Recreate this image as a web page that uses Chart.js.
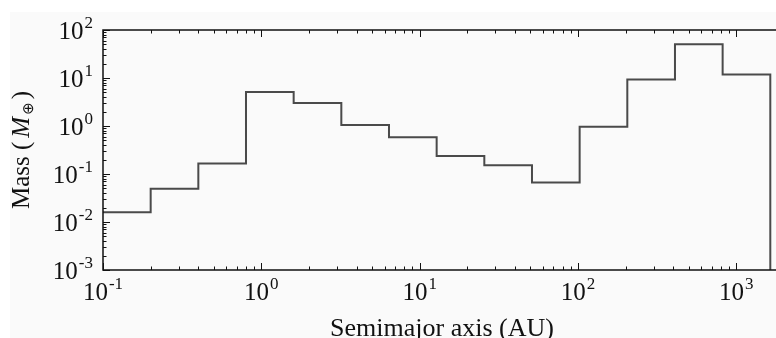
<!DOCTYPE html>
<html>
<head>
<meta charset="utf-8">
<script src="https://cdn.jsdelivr.net/npm/chart.js@4/dist/chart.umd.min.js"></script>
<style>
  html, body { margin: 0; padding: 0; background: #fff; overflow: hidden; }
  #wrap { width: 776px; height: 338px; }
</style>
</head>
<body>
<div id="wrap"><canvas id="massChart" width="776" height="338"></canvas></div>
<script>
// histogram bins (AU), one bin = factor of 2 in semimajor axis
const binEdges = [0.1, 0.2, 0.4, 0.8, 1.6, 3.2, 6.4, 12.8, 25.6, 51.2, 102.4, 204.8, 409.6, 819.2, 1638.4];
// mass in each bin (earth masses)
const binMass = [0.016, 0.049, 0.166, 5.1, 3.0, 1.05, 0.58, 0.237, 0.153, 0.0665, 0.97, 9.3, 50.6, 11.8];

// axis ranges and tick labels
const xMin = 0.1;
const xMax = 1780;
const yMin = 1e-3;
const yMax = 1e2;
const xTickValues = [0.1, 1, 10, 100, 1000];
const xTickExps = ['-1', '0', '1', '2', '3'];
const yTickValues = [1e-3, 1e-2, 1e-1, 1, 10, 100];
const yTickExps = ['-3', '-2', '-1', '0', '1', '2'];

const xTitle = 'Semimajor axis (AU)';

const FONT = '"Liberation Serif", "DejaVu Serif", serif';

// step outline: each bin's value runs from its left edge to the next one,
// the last edge drops back to the bottom of the axis
const stepPoints = binMass.map((m, i) => ({ x: binEdges[i], y: m }));
stepPoints.push({ x: binEdges[binEdges.length - 1], y: yMin });

// decade + 2..9 minor positions inside a range
const logTicks = (lo, hi) => {
  const major = [];
  const minor = [];
  for (let e = Math.floor(Math.log10(lo)); e <= Math.ceil(Math.log10(hi)); e++) {
    const d = Math.pow(10, e);
    if (d >= lo * 0.999 && d <= hi * 1.001) major.push(d);
    for (let k = 2; k <= 9; k++) {
      const v = d * k;
      if (v > lo && v < hi) minor.push(v);
    }
  }
  return { major, minor };
};

const drawPower = (ctx, exp, x, y, align) => {
  ctx.font = '25px ' + FONT;
  const baseW = ctx.measureText('10').width;
  ctx.font = '17px ' + FONT;
  const expW = ctx.measureText(exp).width;
  const gap = 1;
  const total = baseW + gap + expW;
  let left = x - total / 2;
  if (align === 'right') left = x - total;
  ctx.textAlign = 'left';
  ctx.textBaseline = 'alphabetic';
  ctx.font = '25px ' + FONT;
  ctx.fillText('10', left, y);
  ctx.font = '17px ' + FONT;
  ctx.fillText(exp, left + baseW + gap, y - 11);
};

const framePlugin = {
  id: 'frame',
  beforeDraw(chart) {
    const { ctx, width, height } = chart;
    ctx.save();
    ctx.fillStyle = '#ffffff';
    ctx.fillRect(0, 0, width, height);
    ctx.fillStyle = '#fafafa';
    ctx.fillRect(10, 12, width - 10, height - 12);
    ctx.restore();
  },
  afterDraw(chart) {
    const { ctx, chartArea: a } = chart;
    const xs = chart.scales.x;
    const ys = chart.scales.y;
    ctx.save();

    // axes frame (right side sits outside the picture)
    ctx.strokeStyle = '#111';
    ctx.lineWidth = 1.5;
    ctx.beginPath();
    ctx.moveTo(a.right + 2, a.top);
    ctx.lineTo(a.left, a.top);
    ctx.lineTo(a.left, a.bottom);
    ctx.lineTo(a.right + 2, a.bottom);
    ctx.stroke();

    // inward ticks
    ctx.lineWidth = 1;
    const xt = logTicks(xMin, xMax);
    const yt = logTicks(yMin, yMax);
    ctx.beginPath();
    xt.major.forEach((v) => {
      const px = Math.round(xs.getPixelForValue(v)) + 0.5;
      ctx.moveTo(px, a.bottom); ctx.lineTo(px, a.bottom - 7);
      ctx.moveTo(px, a.top); ctx.lineTo(px, a.top + 7);
    });
    xt.minor.forEach((v) => {
      const px = Math.round(xs.getPixelForValue(v)) + 0.5;
      ctx.moveTo(px, a.bottom); ctx.lineTo(px, a.bottom - 3.5);
      ctx.moveTo(px, a.top); ctx.lineTo(px, a.top + 3.5);
    });
    yt.major.forEach((v) => {
      const py = Math.round(ys.getPixelForValue(v)) + 0.5;
      ctx.moveTo(a.left, py); ctx.lineTo(a.left + 7, py);
    });
    yt.minor.forEach((v) => {
      const py = Math.round(ys.getPixelForValue(v)) + 0.5;
      ctx.moveTo(a.left, py); ctx.lineTo(a.left + 3.5, py);
    });
    ctx.stroke();

    // tick labels
    ctx.fillStyle = '#111';
    xTickValues.forEach((v, i) => {
      drawPower(ctx, xTickExps[i], xs.getPixelForValue(v), a.bottom + 30, 'center');
    });
    yTickValues.forEach((v, i) => {
      drawPower(ctx, yTickExps[i], a.left - 10, ys.getPixelForValue(v) + 9, 'right');
    });

    // x title
    ctx.font = '26px ' + FONT;
    ctx.textAlign = 'center';
    ctx.textBaseline = 'alphabetic';
    ctx.fillText(xTitle, 442, 336);

    // y title: Mass (M_⊕) with italic M and small subscript
    const cy = (a.top + a.bottom) / 2;
    ctx.translate(29, cy);
    ctx.rotate(-Math.PI / 2);
    const parts = [
      { t: 'Mass (', f: '25px ' + FONT, dy: 0, pad: 4 },
      { t: 'M', f: 'italic 25px ' + FONT, dy: 0, pad: 2 },
      { t: '\u2295', f: '15px "DejaVu Sans", sans-serif', dy: 4, pad: 3 },
      { t: ')', f: '25px ' + FONT, dy: 0, pad: 0 },
    ];
    let total = 0;
    parts.forEach((p) => { ctx.font = p.f; p.w = ctx.measureText(p.t).width; total += p.w + p.pad; });
    let x = -total / 2;
    ctx.textAlign = 'left';
    parts.forEach((p) => {
      ctx.font = p.f;
      ctx.fillText(p.t, x, p.dy);
      x += p.w + p.pad;
    });
    ctx.restore();
  },
};

const ctx = document.getElementById('massChart');

new Chart(ctx, {
  type: 'line',
  data: {
    datasets: [
      {
        label: 'mass',
        data: stepPoints,
        // horizontal at the previous value, then vertical at the new edge
        stepped: 'before',
        borderColor: '#4a4a4a',
        borderWidth: 2,
        pointRadius: 0,
        fill: false,
      },
    ],
  },
  options: {
    responsive: false,
    animation: false,
    events: [],
    layout: { padding: { left: 103, top: 30, right: 0, bottom: 68 } },
    plugins: { legend: { display: false }, tooltip: { enabled: false } },
    scales: {
      x: { type: 'logarithmic', min: xMin, max: xMax, display: false },
      y: { type: 'logarithmic', min: yMin, max: yMax, display: false },
    },
  },
  plugins: [framePlugin],
});
</script>
</body>
</html>
